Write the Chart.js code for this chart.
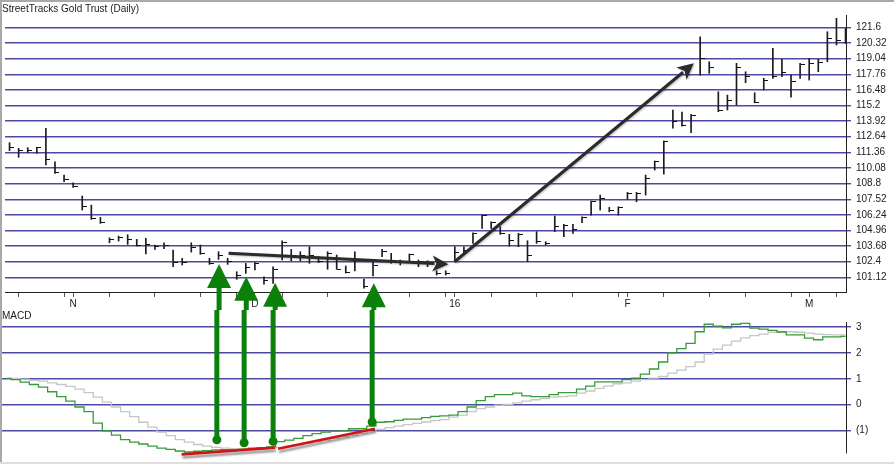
<!DOCTYPE html>
<html>
<head>
<meta charset="utf-8">
<title>StreetTracks Gold Trust (Daily)</title>
<script src="https://cdn.jsdelivr.net/npm/chart.js@4.4.0/dist/chart.umd.min.js"></script>
<style>
  html, body { margin: 0; padding: 0; background: #fff; overflow: hidden; }
  #wrap { position: relative; width: 894px; height: 464px; }
  #wrap canvas { position: absolute; left: 0; }
  #priceCanvas { top: 0; }
  #macdCanvas { top: 310px; }
  .edge { position: absolute; background: #a9a9a9; }
</style>
</head>
<body>
<div id="wrap">
  <canvas id="priceCanvas" width="894" height="310"></canvas>
  <canvas id="macdCanvas" width="894" height="154"></canvas>
  <div class="edge" style="left:0;top:0;width:894px;height:2px"></div>
  <div class="edge" style="left:0;top:0;width:2px;height:464px"></div>
  <div class="edge" style="left:0;top:462px;width:894px;height:2px;background:#dedede"></div>
</div>
<script>
// daily bars, 22 Oct 2015 .. 7 Mar 2016 (index = trading day)
var highs = [112.15, 111.69, 111.75, 111.77, 113.33, 110.59, 109.5, 108.87, 107.78, 107.04,
  106.03, 104.36, 104.5, 104.61, 104.23, 104.31, 103.77, 103.95, 103.36, 102.68,
  103.95, 103.77, 102.68, 103.22, 102.68, 101.58, 102.27, 102.32, 101.17, 101.99,
  104.12, 103.41, 103.22, 103.63, 102.81, 103.22, 102.95, 102.05, 103.22, 100.98,
  102.4, 103.41, 103.09, 102.54, 103.03, 102.54, 102.48, 101.66, 101.66, 103.63,
  103.63, 104.77, 106.22, 105.67, 105.27, 104.64, 104.72, 104.12, 104.86, 104.04,
  106.14, 105.46, 105.46, 106.08, 107.37, 107.86, 106.85, 106.9, 108.08, 108.08,
  109.5, 110.65, 112.29, 114.83, 114.66, 114.47, 120.83, 118.78, 116.32, 116.05,
  118.65, 117.96, 116.24, 117.42, 119.88, 118.98, 117.69, 118.65, 119.06, 118.98,
  121.24, 122.34, 121.52];
var lows = [111.49, 110.95, 111.34, 111.28, 110.32, 109.64, 108.95, 108.49, 106.63, 105.87,
  105.54, 103.95, 104.09, 103.82, 103.68, 103.03, 103.41, 103.46, 101.99, 102.13,
  103.19, 103.0, 102.18, 102.59, 102.18, 100.96, 101.45, 101.72, 100.57, 100.63,
  102.54, 102.48, 102.48, 102.27, 102.32, 101.78, 101.78, 101.47, 101.64, 100.24,
  101.23, 102.81, 102.27, 102.13, 102.4, 101.99, 101.99, 101.31, 101.31, 102.4,
  103.09, 103.9, 105.13, 105.13, 104.64, 103.68, 103.63, 102.4, 103.9, 103.77,
  104.86, 104.45, 104.72, 105.59, 106.22, 106.63, 106.49, 106.22, 107.51, 107.31,
  107.86, 109.91, 109.58, 113.33, 113.51, 112.97, 117.69, 117.83, 114.69, 114.83,
  115.23, 117.06, 115.42, 116.46, 117.42, 117.55, 115.87, 117.42, 117.28, 117.96,
  118.78, 120.15, 120.29];
var closes = [111.77, 111.49, 111.51, 111.75, 110.77, 109.69, 109.17, 108.54, 106.96, 105.92,
  105.59, 104.18, 104.42, 104.23, 103.74, 103.85, 103.63, 103.71, 102.32, 102.37,
  103.6, 103.09, 102.27, 102.95, 102.4, 101.31, 101.91, 102.27, 100.9, 101.78,
  103.95, 102.95, 102.95, 102.95, 102.4, 103.09, 101.8, 101.51, 102.59, 100.41,
  102.13, 103.22, 102.54, 102.32, 103.0, 102.4, 102.37, 101.45, 101.45, 103.19,
  103.36, 104.72, 106.17, 105.59, 104.72, 104.15, 104.67, 102.95, 104.04, 103.9,
  105.27, 105.4, 105.05, 106.03, 107.31, 107.59, 106.63, 106.85, 108.0, 108.0,
  109.23, 110.59, 112.23, 113.87, 113.58, 114.39, 119.06, 118.32, 114.77, 115.59,
  118.32, 117.55, 115.46, 117.23, 117.61, 117.94, 117.14, 118.59, 118.65, 118.73,
  120.7, 120.56, 121.16];

var macdLine = [1.02, 0.97, 0.87, 0.78, 0.68, 0.50, 0.31, 0.14, -0.09, -0.27,
  -0.71, -1.01, -1.18, -1.35, -1.45, -1.52, -1.60, -1.68, -1.73, -1.79,
  -1.83, -1.80, -1.78, -1.75, -1.74, -1.76, -1.73, -1.68, -1.66, -1.63,
  -1.43, -1.37, -1.30, -1.20, -1.12, -1.06, -1.02, -1.01, -0.93, -0.93,
  -0.83, -0.68, -0.66, -0.61, -0.56, -0.56, -0.50, -0.45, -0.43, -0.40,
  -0.27, -0.09, 0.16, 0.31, 0.39, 0.39, 0.45, 0.34, 0.31, 0.31,
  0.39, 0.47, 0.47, 0.60, 0.72, 0.88, 0.88, 0.88, 0.97, 1.03,
  1.18, 1.38, 1.65, 2.00, 2.17, 2.37, 2.82, 3.11, 3.04, 2.97,
  3.11, 3.14, 2.96, 2.92, 2.87, 2.81, 2.70, 2.70, 2.57, 2.51,
  2.62, 2.62, 2.64];
var signalLine = [1.02, 1.02, 0.99, 0.94, 0.91, 0.84, 0.78, 0.71, 0.60, 0.47,
  0.29, 0.10, -0.09, -0.27, -0.46, -0.68, -0.87, -1.06, -1.20, -1.35,
  -1.45, -1.54, -1.60, -1.65, -1.68, -1.70, -1.71, -1.71, -1.70, -1.69,
  -1.65, -1.60, -1.55, -1.49, -1.43, -1.37, -1.30, -1.24, -1.18, -1.11,
  -1.04, -0.96, -0.89, -0.83, -0.77, -0.72, -0.67, -0.62, -0.58, -0.48,
  -0.40, -0.27, -0.15, -0.09, -0.02, 0.01, 0.07, 0.14, 0.19, 0.24,
  0.29, 0.31, 0.34, 0.45, 0.53, 0.63, 0.72, 0.81, 0.84, 0.91,
  0.97, 1.03, 1.09, 1.22, 1.34, 1.47, 1.65, 1.96, 2.15, 2.30,
  2.46, 2.58, 2.67, 2.73, 2.80, 2.82, 2.82, 2.80, 2.77, 2.73,
  2.71, 2.70, 2.70];

// axis ticks
var priceTicks = [101.12, 102.4, 103.68, 104.96, 106.24, 107.52, 108.8, 110.08, 111.36,
  112.64, 113.92, 115.2, 116.48, 117.76, 119.04, 120.32, 121.6];
var priceTickLabels = ['101.12', '102.4', '103.68', '104.96', '106.24', '107.52', '108.8', '110.08', '111.36',
  '112.64', '113.92', '115.2', '116.48', '117.76', '119.04', '120.32', '121.6'];
var macdTicks = [-1, 0, 1, 2, 3];
var macdTickLabels = ['(1)', '0', '1', '2', '3'];
var weekTicks = [1, 6, 11, 16, 21, 25, 30, 35, 40, 44, 48, 53, 58, 62, 67, 72, 77, 81, 86, 91];
var monthTicks = [7, 27, 49, 68, 88];
var monthLabels = ['N', 'D', '16', 'F', 'M'];

// hand drawn notes, in [day, price] / [day, macd]
var trendArrows = [
  { from: [24.1, 103.09], to: [48.3, 102.19] },
  { from: [48.97, 102.4], to: [75.3, 118.65] }
];
var divDays = [23.06, 26.05, 29.23, 40.09];
var divPrice = [102.21, 101.17, 100.68, 100.63];
var divMacd = [-1.36, -1.47, -1.42, -0.67];
var macdLows = [[19.19, -1.92, 29.42, -1.66], [29.78, -1.70, 40.39, -0.93]];

var days = closes.map(function (c, i) { return i; });

var FONT = "'Liberation Sans', Arial, sans-serif";
var GRID = '#4a4aa2';
var GREEN = '#0b800b';

// close tick to the right of each bar
var closeTick = document.createElement('canvas');
closeTick.width = 9;
closeTick.height = 1;
var tc = closeTick.getContext('2d');
tc.fillStyle = '#111';
tc.fillRect(5, 0, 4, 1);

function drawArrow(ctx, x1, y1, x2, y2) {
  var ang = Math.atan2(y2 - y1, x2 - x1);
  var len = 16, half = 8;
  var bx = x2 - len * Math.cos(ang), by = y2 - len * Math.sin(ang);
  ctx.strokeStyle = '#2b2b2b';
  ctx.fillStyle = '#2b2b2b';
  ctx.lineWidth = 3;
  ctx.beginPath();
  ctx.moveTo(x1, y1);
  ctx.lineTo(bx + 2 * Math.cos(ang), by + 2 * Math.sin(ang));
  ctx.stroke();
  ctx.beginPath();
  ctx.moveTo(x2, y2);
  ctx.lineTo(bx + half * Math.sin(ang), by - half * Math.cos(ang));
  ctx.lineTo(bx + 4 * Math.cos(ang), by + 4 * Math.sin(ang));
  ctx.lineTo(bx - half * Math.sin(ang), by + half * Math.cos(ang));
  ctx.closePath();
  ctx.fill();
}

var crispTicks = {
  id: 'crispTicks',
  beforeDatasetsDraw: function (chart) {
    chart.ctx.imageSmoothingEnabled = false;
  }
};

var priceNotes = {
  id: 'priceNotes',
  afterDatasetsDraw: function (chart) {
    var ctx = chart.ctx, xs = chart.scales.x, ys = chart.scales.y;
    ctx.save();
    ctx.shadowColor = 'rgba(0,0,0,0.25)';
    ctx.shadowBlur = 2;
    ctx.shadowOffsetX = 1;
    ctx.shadowOffsetY = 1;
    trendArrows.forEach(function (a) {
      drawArrow(ctx, xs.getPixelForValue(a.from[0]), ys.getPixelForValue(a.from[1]),
        xs.getPixelForValue(a.to[0]), ys.getPixelForValue(a.to[1]));
    });
    ctx.shadowColor = 'transparent';
    ctx.fillStyle = GREEN;
    divDays.forEach(function (d, k) {
      var x = xs.getPixelForValue(d);
      var tip = ys.getPixelForValue(divPrice[k]);
      ctx.beginPath();
      ctx.moveTo(x, tip);
      ctx.lineTo(x + 12, tip + 24);
      ctx.lineTo(x - 12, tip + 24);
      ctx.closePath();
      ctx.fill();
      ctx.fillRect(x - 2.5, tip + 23, 5, chart.height - tip - 23);
    });
    ctx.restore();
  }
};

var macdNotes = {
  id: 'macdNotes',
  afterDatasetsDraw: function (chart) {
    var ctx = chart.ctx, xs = chart.scales.x, ys = chart.scales.y;
    ctx.save();
    ctx.strokeStyle = '#d01414';
    ctx.lineWidth = 2.6;
    ctx.shadowColor = 'rgba(0,0,0,0.4)';
    ctx.shadowBlur = 2;
    ctx.shadowOffsetX = 1;
    ctx.shadowOffsetY = 3;
    macdLows.forEach(function (s) {
      ctx.beginPath();
      ctx.moveTo(xs.getPixelForValue(s[0]), ys.getPixelForValue(s[1]));
      ctx.lineTo(xs.getPixelForValue(s[2]), ys.getPixelForValue(s[3]));
      ctx.stroke();
    });
    ctx.shadowColor = 'transparent';
    ctx.fillStyle = GREEN;
    divDays.forEach(function (d, k) {
      var x = xs.getPixelForValue(d);
      var dot = ys.getPixelForValue(divMacd[k]);
      ctx.fillRect(x - 2.5, 0, 5, dot);
      ctx.beginPath();
      ctx.arc(x, dot, 4.5, 0, Math.PI * 2);
      ctx.fill();
    });
    ctx.restore();
  }
};

var priceChart = new Chart(document.getElementById('priceCanvas'), {
  type: 'bar',
  data: {
    datasets: [
      {
        type: 'scatter',
        label: 'Close',
        data: days.map(function (i) { return { x: i, y: closes[i] }; }),
        pointStyle: closeTick,
        pointRadius: 3,
        showLine: false
      },
      {
        type: 'bar',
        label: 'High-Low',
        data: days.map(function (i) { return { x: i, y: [lows[i], highs[i]] }; }),
        backgroundColor: '#1c1c1c',
        borderWidth: 0,
        barThickness: 1
      }
    ]
  },
  options: {
    responsive: false,
    animation: false,
    events: [],
    layout: { padding: { left: 2, right: 0, top: 0, bottom: 0 } },
    plugins: {
      legend: { display: false },
      tooltip: { enabled: false },
      title: {
        display: true,
        text: 'StreetTracks Gold Trust (Daily)',
        align: 'start',
        color: '#1a1a1a',
        font: { family: FONT, size: 10, weight: 'normal' },
        padding: { top: 3, bottom: 0 }
      }
    },
    scales: {
      x: {
        type: 'linear',
        min: -0.5,
        max: 92.05,
        offset: false,
        afterBuildTicks: function (scale) {
          scale.ticks = weekTicks.concat(monthTicks).sort(function (a, b) { return a - b; })
            .map(function (v) { return { value: v }; });
        },
        afterFit: function (scale) { scale.height = 18; },
        grid: { drawOnChartArea: false, drawTicks: true, tickLength: 5, color: '#555', offset: false },
        border: { color: '#222' },
        ticks: {
          autoSkip: false,
          maxRotation: 0,
          padding: 1,
          color: '#222',
          font: { family: FONT, size: 10 },
          callback: function (v) {
            var k = monthTicks.indexOf(v);
            return k >= 0 ? monthLabels[k] : '';
          }
        }
      },
      y: {
        position: 'right',
        min: 99.92,
        max: 122.61,
        afterBuildTicks: function (scale) {
          scale.ticks = priceTicks.map(function (v) { return { value: v }; });
        },
        afterFit: function (scale) { scale.width = 48; },
        grid: { color: GRID, lineWidth: 1.4, tickLength: 5 },
        border: { color: '#222' },
        ticks: {
          padding: 5,
          color: '#222',
          font: { family: FONT, size: 10 },
          callback: function (v, i) { return priceTickLabels[i]; }
        }
      }
    }
  },
  plugins: [crispTicks, priceNotes]
});

var macdChart = new Chart(document.getElementById('macdCanvas'), {
  type: 'line',
  data: {
    datasets: [
      {
        label: 'MACD',
        data: days.map(function (i) { return { x: i, y: macdLine[i] }; }),
        borderColor: '#389a38',
        borderWidth: 1.3,
        stepped: 'middle',
        pointRadius: 0,
        fill: false
      },
      {
        label: 'Signal',
        data: days.map(function (i) { return { x: i, y: signalLine[i] }; }),
        borderColor: '#c6c6c6',
        borderWidth: 1.3,
        stepped: 'middle',
        pointRadius: 0,
        fill: false
      }
    ]
  },
  options: {
    responsive: false,
    animation: false,
    events: [],
    layout: { padding: { left: 2, right: 0, top: 0, bottom: 6 } },
    plugins: {
      legend: { display: false },
      tooltip: { enabled: false },
      title: {
        display: true,
        text: 'MACD',
        align: 'start',
        color: '#1a1a1a',
        font: { family: FONT, size: 10, weight: 'normal' },
        padding: { top: 0, bottom: 0 }
      }
    },
    scales: {
      x: { type: 'linear', min: -0.5, max: 92.05, display: false },
      y: {
        position: 'right',
        min: -1.868,
        max: 3.197,
        afterBuildTicks: function (scale) {
          scale.ticks = macdTicks.map(function (v) { return { value: v }; });
        },
        afterFit: function (scale) { scale.width = 48; },
        grid: { color: GRID, lineWidth: 1.4, tickLength: 5 },
        border: { color: '#222' },
        ticks: {
          padding: 5,
          color: '#222',
          font: { family: FONT, size: 10 },
          callback: function (v, i) { return macdTickLabels[i]; }
        }
      }
    }
  },
  plugins: [macdNotes]
});
</script>
</body>
</html>
